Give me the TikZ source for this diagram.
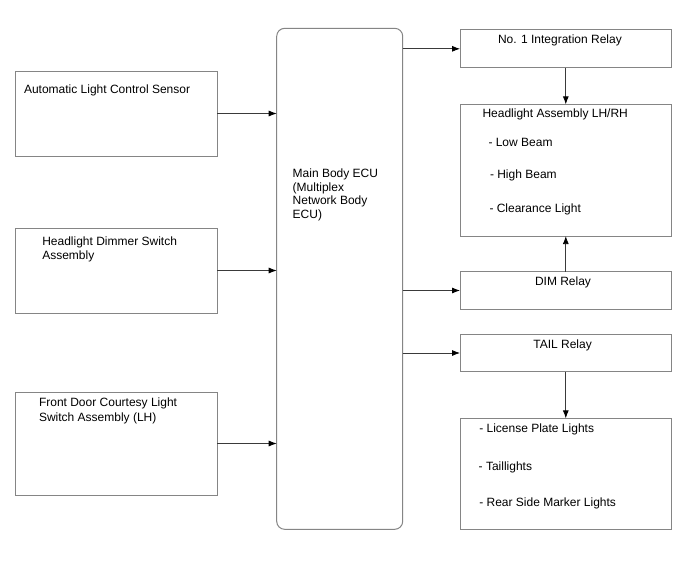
\documentclass[tikz,border=0pt]{standalone}
\usepackage{fontspec}
\setmainfont{Liberation Sans}
\usetikzlibrary{arrows.meta}
\definecolor{boxgray}{HTML}{858585}
\definecolor{linegray}{HTML}{3A3A3A}
\begin{document}
\begin{tikzpicture}[x=1pt,y=-1pt,
  box/.style={draw=boxgray,line width=1pt,fill=white,rectangle,inner sep=0pt,outer sep=0pt},
  ecubox/.style={box,rounded corners=8pt},
  lbl/.style={anchor=base west,inner sep=0pt,outer sep=0pt,font=\fontsize{12}{13.8}\selectfont,text=black},
  conn/.style={draw=linegray,line width=0.8pt,-{Latex[length=8pt,width=6pt,color=black]}}]
\useasboundingbox[fill=white] (0,0) rectangle (688,560);
% left boxes
\node[box,minimum width=202pt,minimum height=85pt] (l1) at (116,113.5) {};
\node[box,minimum width=202pt,minimum height=85pt] (l2) at (116,270.5) {};
\node[box,minimum width=202pt,minimum height=103pt] (l3) at (116,443.5) {};
% ECU
\node[ecubox,minimum width=126pt,minimum height=501pt] (ecu) at (339.7,278.8) {};
% right boxes
\node[box,minimum width=211.5pt,minimum height=37.7pt] (r1) at (565.8,48.8) {};
\node[box,minimum width=211.5pt,minimum height=131.7pt] (hl) at (565.8,170.2) {};
\node[box,minimum width=211.5pt,minimum height=37.6pt] (dim) at (565.8,290.5) {};
\node[box,minimum width=211.5pt,minimum height=37.4pt] (tail) at (565.8,353) {};
\node[box,minimum width=211.5pt,minimum height=110.7pt] (lights) at (565.8,473.7) {};
% texts
\node[lbl] (t1) at (24,93) {Automatic Light Control Sensor};
\node[lbl] (t2a) at (42.3,245) {Headlight Dimmer Switch};
\node[lbl] (t2b) at (42.3,259.2) {Assembly};
\node[lbl] (t3a) at (39,406.8) {Front Door Courtesy Light};
\node[lbl] (t3b) at (39,421) {Switch Assembly (LH)};
\node[lbl] (te1) at (292.7,177.3) {Main Body ECU};
\node[lbl] (te2) at (292.7,191.1) {(Multiplex};
\node[lbl] (te3) at (292.7,204.9) {Network Body};
\node[lbl] (te4) at (292.7,218.7) {ECU)};
\node[lbl] (tr1) at (498,43.5) {No. 1 Integration Relay};
\node[lbl] (th0) at (482.5,117.3) {Headlight Assembly LH/RH};
\node[lbl] (th1) at (488.5,146.7) {- Low Beam};
\node[lbl] (th2) at (490,178.3) {- High Beam};
\node[lbl] (th3) at (489.5,212.3) {- Clearance Light};
\node[lbl] (td) at (535,285) {DIM Relay};
\node[lbl] (tt) at (533.3,348.3) {TAIL Relay};
\node[lbl] (tl1) at (479.3,432.7) {- License Plate Lights};
\node[lbl] (tl2) at (478.7,470.5) {- Taillights};
\node[lbl] (tl3) at (479.3,506.7) {- Rear Side Marker Lights};
% connectors
\draw[conn] (l1.east) -- (l1.east -| ecu.west);
\draw[conn] (l2.east) -- (l2.east -| ecu.west);
\draw[conn] (l3.east) -- (l3.east -| ecu.west);
\draw[conn] (ecu.east |- r1.west) -- (r1.west);
\draw[conn] (ecu.east |- dim.west) -- (dim.west);
\draw[conn] (ecu.east |- tail.west) -- (tail.west);
\draw[conn] (r1.south) -- (hl.north);
\draw[conn] (dim.north) -- (hl.south);
\draw[conn] (tail.south) -- (lights.north);
\end{tikzpicture}
\end{document}
